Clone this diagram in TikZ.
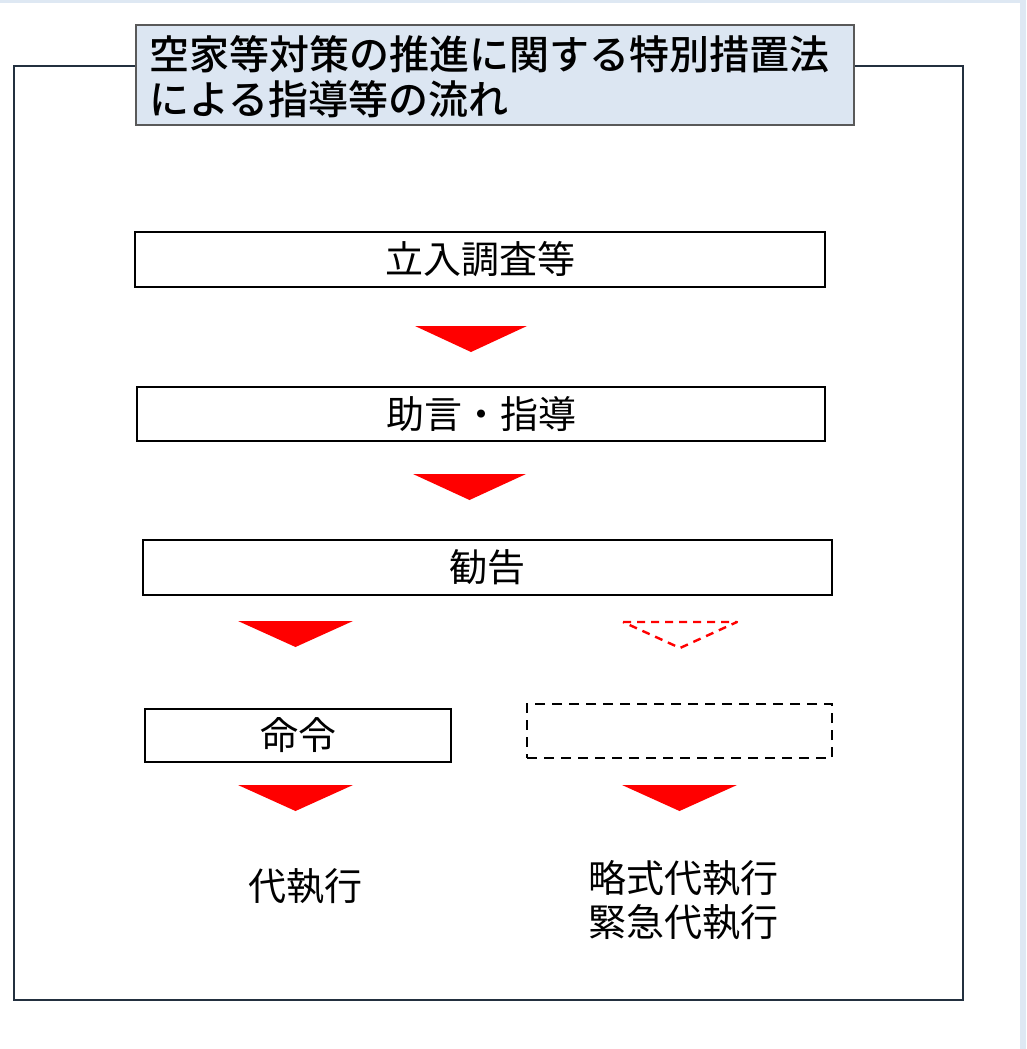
\documentclass[tikz,border=0pt]{standalone}
\usepackage{fontspec}
\setmainfont{Noto Sans CJK JP}
\newfontfamily\cjk{Noto Sans CJK JP}
\newfontfamily\cjkmed{Noto Sans CJK JP Medium}
\begin{document}
\begin{tikzpicture}[x=1pt,y=-1pt,
  framecol/.style={draw=frameblue,line width=2pt},
  stepbox/.style={draw=black,line width=2.4pt,fill=white,inner sep=0pt,
    font=\cjk\fontsize{38}{44}\selectfont},
  dashbox/.style={draw=black,line width=2.4pt,dash pattern=on 10pt off 7pt,inner sep=0pt},
  redtri/.style={fill=arrowred,draw=none},
  redtridash/.style={draw=arrowred,line width=2.4pt,dash pattern=on 8pt off 6pt,line join=round},
  plaintext/.style={font=\cjk\fontsize{38}{44}\selectfont,align=center,inner sep=0pt}
]
\definecolor{frameblue}{HTML}{23303F}
\definecolor{titlefill}{HTML}{DCE6F2}
\definecolor{titleline}{HTML}{595959}
\definecolor{bgband}{HTML}{DEE8F3}
\definecolor{arrowred}{HTML}{FF0000}
% background and margins
\fill[bgband] (0,0) rectangle (1026,1049);
\fill[white] (0,3) rectangle (1020,1049);
\useasboundingbox (0,0) rectangle (1026,1049);
% outer frame
\draw[framecol] (135,66) -- (14,66) -- (14,1000) -- (963,1000) -- (963,66) -- (853,66);
% title
\node[draw=titleline,line width=2pt,fill=titlefill,anchor=north west,
  minimum width=718pt,minimum height=100pt,inner sep=0pt] (title) at (135,24) {};
\node[anchor=west,inner sep=0pt,font=\cjkmed\fontsize{40}{45}\selectfont,align=left]
  (titletext) at (149,77) {空家等対策の推進に関する特別措置法\\による指導等の流れ};
% step boxes
\node[stepbox,minimum width=690pt,minimum height=55pt] (b1) at (480,259.5) {立入調査等};
\node[stepbox,minimum width=688pt,minimum height=54pt] (b2) at (481,414) {助言・指導};
\node[stepbox,minimum width=689pt,minimum height=55pt] (b3) at (487.5,567.5) {勧告};
\node[stepbox,minimum width=306pt,minimum height=53pt] (b4) at (298,735.5) {命令};
\node[dashbox,minimum width=305pt,minimum height=54pt] (b5) at (679.5,731) {};
% final texts
\node[plaintext] (t1) at (305,886) {代執行};
\node[plaintext] (t2) at (683,900) {略式代執行\\緊急代執行};
% arrows (triangles)
\fill[redtri] (415,326) -- (527,326) -- (471,352) -- cycle;
\fill[redtri] (413,474) -- (526,474) -- (469.5,500) -- cycle;
\fill[redtri] (238,621) -- (353,621) -- (295.5,647) -- cycle;
\draw[redtridash] (623,622) -- (737,622) -- (680,648) -- cycle;
\fill[redtri] (238,785) -- (353,785) -- (295.5,811) -- cycle;
\fill[redtri] (622,785) -- (737,785) -- (679.5,811) -- cycle;
\end{tikzpicture}
\end{document}
